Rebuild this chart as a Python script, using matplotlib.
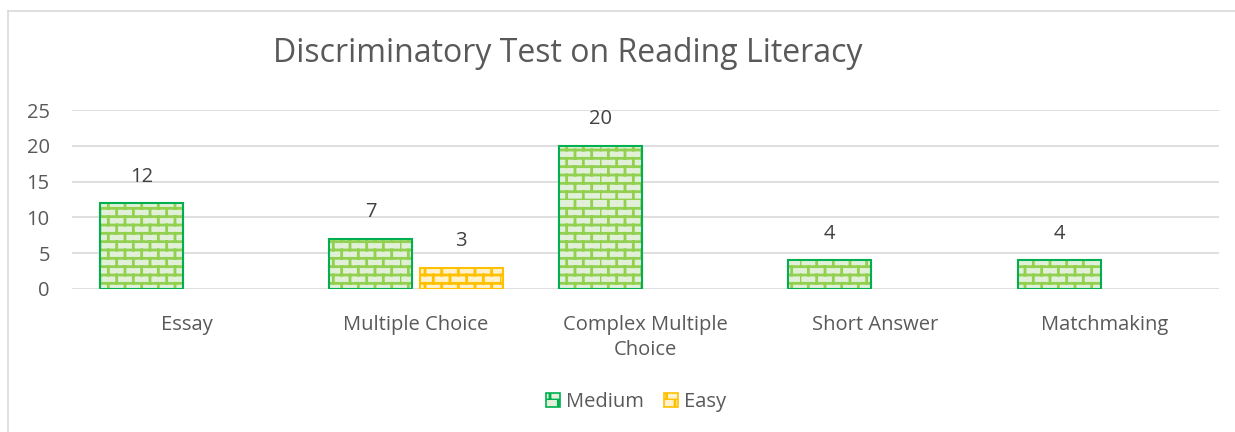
import warnings
import numpy as np
import matplotlib
matplotlib.use("Agg")
import matplotlib.pyplot as plt
from matplotlib import hatch as mhatch
from matplotlib.path import Path
from matplotlib.patches import Patch
from matplotlib.lines import Line2D

warnings.filterwarnings("ignore")

# ---- data ----
categories = ["Essay", "Multiple Choice", "Complex Multiple\nChoice", "Short Answer", "Matchmaking"]
medium = [12, 7, 20, 4, 4]
easy = [None, 3, None, None, None]
series_names = ["Medium", "Easy"]
title = "Discriminatory Test on Reading Literacy"
yticks = [0, 5, 10, 15, 20, 25]


# ---- custom brick hatch ----
class BrickHatch(mhatch.HatchPatternBase):
    rows = 12
    cols = 6

    def __init__(self, hatch, density):
        self.on = "b" in hatch
        self.num_vertices = (self.rows * 2 + self.rows * self.cols * 2) if self.on else 0

    def set_vertices_and_codes(self, vertices, codes):
        v = []
        h = 1.0 / self.rows
        w = 1.0 / self.cols
        for r in range(self.rows):
            y = r * h
            v += [(0.0, y), (1.0, y)]
        for r in range(self.rows):
            y0, y1 = r * h, (r + 1) * h
            off = 0.0 if r % 2 == 0 else w / 2
            for c in range(self.cols):
                x = off + c * w
                v += [(x, y0), (x, y1)]
        vertices[:] = np.array(v)
        codes[0::2] = Path.MOVETO
        codes[1::2] = Path.LINETO


mhatch._hatch_types.append(BrickHatch)
plt.rcParams["hatch.linewidth"] = 2.0
plt.rcParams["font.family"] = ["Open Sans", "DejaVu Sans"]

W, H = 1235, 432
fig = plt.figure(figsize=(W / 100, H / 100), dpi=100)
ax = fig.add_axes([72 / W, 1 - 289 / H, (1219 - 72) / W, (289 - 110) / H])

# chart border (light gray)
fig.add_artist(Line2D([8 / W, 8 / W], [0, 1 - 11 / H], transform=fig.transFigure, color="#D9D9D9", lw=1.2))
fig.add_artist(Line2D([8 / W, 1], [1 - 11 / H, 1 - 11 / H], transform=fig.transFigure, color="#D9D9D9", lw=1.2))

x = np.arange(len(categories))
bw = 0.362
off = 0.197

g_fill, g_line, g_edge = "#E2F0D9", "#92D050", "#00B050"
y_fill, y_line, y_edge = "#FFF2CC", "#FFC000", "#FFC000"

med_x = x - off
ax.bar(med_x, medium, bw, color=g_fill, edgecolor=g_line, linewidth=0, hatch="b", zorder=2)
ax.bar(med_x, medium, bw, fill=False, edgecolor=g_edge, linewidth=1.5, zorder=3)

ex = [xi + off for xi, v in zip(x, easy) if v is not None]
ev = [v for v in easy if v is not None]
ax.bar(ex, ev, bw, color=y_fill, edgecolor=y_line, linewidth=0, hatch="b", zorder=2)
ax.bar(ex, ev, bw, fill=False, edgecolor=y_edge, linewidth=1.5, zorder=3)

fs = 14.5
label_color = "#404040"
for xi, v in zip(med_x, medium):
    ax.annotate(str(v), (xi, v), xytext=(0, 19), textcoords="offset points",
                ha="center", va="center", fontsize=fs, color=label_color)
for xi, v in zip(ex, ev):
    ax.annotate(str(v), (xi, v), xytext=(0, 19), textcoords="offset points",
                ha="center", va="center", fontsize=fs, color=label_color)

ax.set_xlim(-0.5, len(categories) - 0.5)
ax.set_ylim(0, 25)
ax.set_yticks(yticks)
ax.set_xticks(x)
ax.set_xticklabels(categories, fontsize=fs, color="#595959", linespacing=1.3)
ax.tick_params(axis="y", length=0, pad=16, labelsize=fs, labelcolor="#595959")
ax.tick_params(axis="x", length=0, pad=19)
ax.grid(axis="y", color="#D9D9D9", lw=1.2, zorder=0)
ax.set_axisbelow(True)
for s in ax.spines.values():
    s.set_visible(False)

fig.text(568 / W, 1 - 54 / H, title, ha="center", va="center", fontsize=23, color="#595959")

handles = [Patch(facecolor=g_fill, edgecolor=g_edge, hatch="b", lw=1.2),
           Patch(facecolor=y_fill, edgecolor=y_edge, hatch="b", lw=1.2)]
fig.legend(handles, series_names, loc="center", bbox_to_anchor=(636 / W, 1 - 402 / H),
           ncol=2, frameon=False, fontsize=fs, handlelength=0.7, handleheight=0.7,
           handletextpad=0.3, columnspacing=1.0, labelcolor="#595959")

fig.savefig("out.png", dpi=100)
